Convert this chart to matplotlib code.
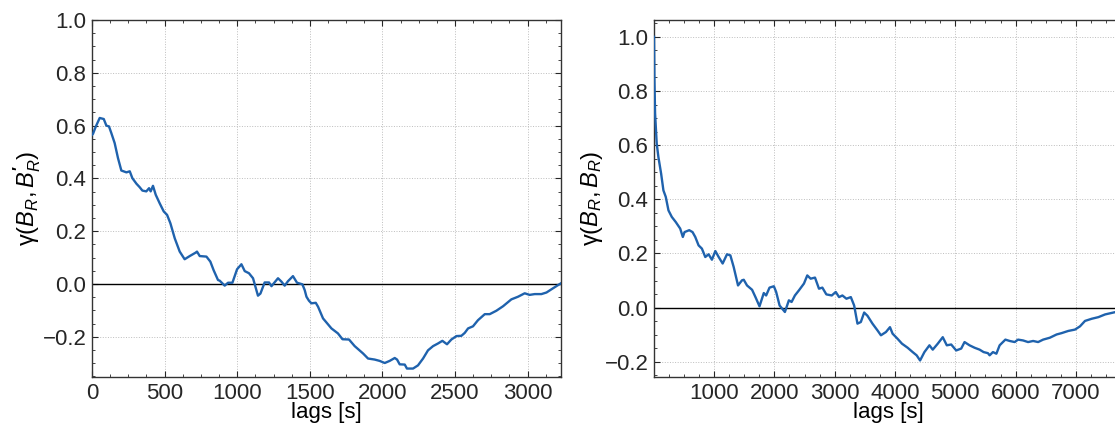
# autocorr_plot.py

import matplotlib
matplotlib.use('Agg')
import matplotlib.pyplot as plt
from matplotlib.ticker import MultipleLocator

# Cross-correlation B_R vs B_R' (left panel)
lags_cross = [0, 7, 25, 53, 81, 99, 117, 133, 156, 179, 202, 237, 260, 278, 306, 328, 347,
              374, 393, 404, 420, 439, 466, 494, 517, 540, 570, 604, 638, 673, 714, 723, 742,
              788, 815, 838, 868, 879, 914, 937, 967, 999, 1029, 1052, 1081, 1109, 1143, 1160,
              1189, 1219, 1236, 1281, 1305, 1327, 1350, 1384, 1412, 1449, 1465, 1477, 1494,
              1511, 1541, 1557, 1591, 1649, 1694, 1725, 1770, 1809, 1867, 1901, 1947, 1981,
              2016, 2050, 2085, 2101, 2119, 2154, 2169, 2211, 2245, 2280, 2314, 2349, 2383,
              2413, 2445, 2475, 2510, 2544, 2567, 2590, 2624, 2658, 2705, 2739, 2785, 2831,
              2888, 2934, 2980, 3014, 3049, 3095, 3130, 3175, 3230]
gamma_cross = [0.565, 0.569, 0.595, 0.629, 0.625, 0.600, 0.597, 0.572, 0.534, 0.477, 0.430,
               0.423, 0.427, 0.401, 0.380, 0.367, 0.354, 0.351, 0.363, 0.351, 0.372, 0.338,
               0.306, 0.275, 0.262, 0.230, 0.173, 0.123, 0.094, 0.106, 0.119, 0.123, 0.106,
               0.104, 0.085, 0.052, 0.015, 0.013, -0.006, 0.005, 0.005, 0.056, 0.075, 0.049,
               0.041, 0.022, -0.044, -0.036, 0.006, 0.006, -0.008, 0.022, 0.009, -0.006, 0.011,
               0.030, 0.005, -0.001, -0.023, -0.048, -0.063, -0.073, -0.071, -0.086, -0.130,
               -0.168, -0.187, -0.209, -0.210, -0.235, -0.263, -0.282, -0.286, -0.291, -0.299,
               -0.291, -0.280, -0.286, -0.304, -0.305, -0.320, -0.320, -0.308, -0.282, -0.251,
               -0.235, -0.225, -0.215, -0.228, -0.210, -0.197, -0.196, -0.185, -0.168, -0.160,
               -0.137, -0.114, -0.114, -0.101, -0.084, -0.058, -0.048, -0.035, -0.041, -0.038,
               -0.038, -0.032, -0.016, 0.003]

# Autocorrelation of B_R (right panel)
lags_auto = [5, 12, 23, 50, 78, 123, 161, 200, 245, 300, 366, 439, 483, 511, 589, 644, 689,
             744, 799, 855, 910, 965, 1022, 1077, 1143, 1215, 1271, 1326, 1398, 1464, 1493,
             1547, 1631, 1687, 1754, 1825, 1864, 1920, 1992, 2030, 2087, 2175, 2241, 2286,
             2341, 2408, 2491, 2546, 2602, 2674, 2740, 2796, 2862, 2952, 3018, 3073, 3128,
             3195, 3268, 3323, 3378, 3434, 3489, 3544, 3627, 3710, 3767, 3850, 3917, 3960,
             4043, 4116, 4210, 4293, 4359, 4416, 4488, 4571, 4626, 4709, 4792, 4859, 4932,
             5015, 5098, 5153, 5236, 5320, 5403, 5469, 5541, 5569, 5624, 5681, 5735, 5830,
             5902, 5985, 6040, 6123, 6206, 6290, 6373, 6456, 6567, 6679, 6762, 6872, 6983,
             7067, 7150, 7261, 7372, 7483, 7621, 7780]
gamma_auto = [1.0, 0.84, 0.717, 0.606, 0.556, 0.495, 0.433, 0.409, 0.359, 0.335, 0.316, 0.292,
              0.261, 0.279, 0.286, 0.279, 0.261, 0.230, 0.218, 0.187, 0.197, 0.177, 0.209,
              0.187, 0.163, 0.197, 0.193, 0.150, 0.082, 0.101, 0.103, 0.082, 0.066, 0.039,
              0.005, 0.054, 0.045, 0.074, 0.079, 0.058, 0.008, -0.016, 0.027, 0.021, 0.045,
              0.064, 0.089, 0.119, 0.107, 0.111, 0.070, 0.074, 0.049, 0.045, 0.058, 0.039,
              0.045, 0.033, 0.039, 0.008, -0.059, -0.053, -0.018, -0.030, -0.059, -0.084,
              -0.102, -0.090, -0.072, -0.096, -0.115, -0.133, -0.148, -0.164, -0.176, -0.195,
              -0.164, -0.139, -0.155, -0.133, -0.109, -0.139, -0.136, -0.158, -0.151, -0.127,
              -0.139, -0.148, -0.155, -0.164, -0.168, -0.176, -0.164, -0.170, -0.139, -0.118,
              -0.123, -0.127, -0.118, -0.121, -0.127, -0.123, -0.127, -0.118, -0.111, -0.099,
              -0.094, -0.086, -0.081, -0.069, -0.049, -0.041, -0.035, -0.025, -0.018, -0.010]

y_ticks = [-0.2, 0.0, 0.2, 0.4, 0.6, 0.8, 1.0]
x_ticks_cross = [0, 500, 1000, 1500, 2000, 2500, 3000]
x_ticks_auto = [1000, 2000, 3000, 4000, 5000, 6000, 7000]

LINE_COLOR = '#1f62ad'

plt.rcParams['font.family'] = ['Liberation Sans', 'DejaVu Sans']
plt.rcParams['font.size'] = 16
plt.rcParams['mathtext.fontset'] = 'custom'
plt.rcParams['mathtext.rm'] = 'Liberation Sans'
plt.rcParams['mathtext.it'] = 'Liberation Sans:italic'
plt.rcParams['mathtext.bf'] = 'Liberation Sans:bold'
plt.rcParams['text.color'] = '#262626'
plt.rcParams['xtick.color'] = '#262626'
plt.rcParams['ytick.color'] = '#262626'


def style_axes(ax, xticks, xminor):
    """Common look: inward ticks on all sides, dotted grid, zero line."""
    ax.set_xticks(xticks)
    ax.set_yticks(y_ticks)
    ax.xaxis.set_minor_locator(MultipleLocator(xminor))
    ax.yaxis.set_minor_locator(MultipleLocator(0.05))
    ax.tick_params(which='both', direction='in', top=True, right=True, pad=4)
    ax.tick_params(which='major', length=4.5, width=0.8)
    ax.tick_params(which='minor', length=2.5, width=0.6)
    ax.grid(True, which='major', linestyle=':', linewidth=0.7, color='#bdbdbd')
    ax.axhline(0, color='black', linewidth=1.0, zorder=2)
    for sp in ax.spines.values():
        sp.set_color('#333333')
        sp.set_linewidth(1.0)
    ax.set_xlabel('lags [s]', labelpad=-1)


fig = plt.figure(figsize=(11.15, 4.25), dpi=100)

# left panel
ax1 = fig.add_axes([92 / 1115, 48 / 425, 469 / 1115, 357 / 425])
ax1.plot(lags_cross, gamma_cross, color=LINE_COLOR, linewidth=1.7, zorder=3)
ax1.set_xlim(0, 3230)
ax1.set_ylim(-0.352, 1.0)
style_axes(ax1, x_ticks_cross, 125)
ax1.set_ylabel(r"$\mathrm{\gamma}(B_R, B^{\mathbf{\prime}}_R)$", fontsize=17, labelpad=0)

# right panel (runs past the right edge of the image, as in the original)
ax2 = fig.add_axes([654 / 1115, 48 / 425, 469 / 1115, 357 / 425])
ax2.plot(lags_auto, gamma_auto, color=LINE_COLOR, linewidth=1.7, zorder=3)
ax2.set_xlim(5, 7780)
ax2.set_ylim(-0.256, 1.062)
style_axes(ax2, x_ticks_auto, 250)
ax2.set_ylabel(r"$\mathrm{\gamma}(B_R, B_R)$", fontsize=17, labelpad=0)

fig.savefig('out.png', dpi=100)
plt.close(fig)
